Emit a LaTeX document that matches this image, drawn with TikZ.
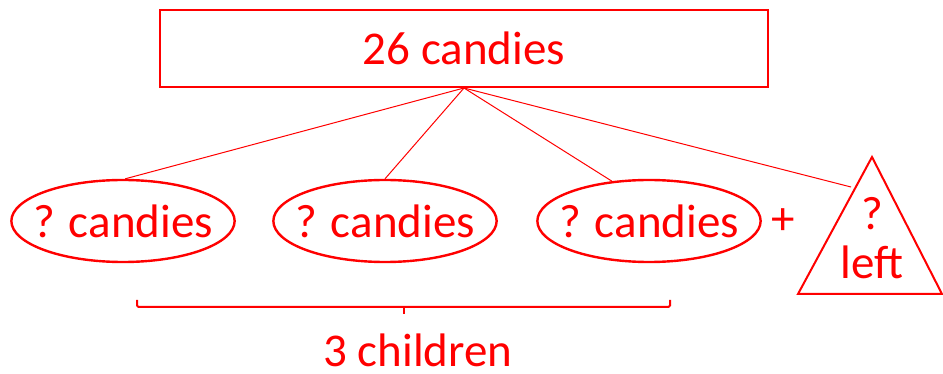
\documentclass[tikz,border=0pt]{standalone}
\usepackage{fontspec}
\setmainfont{Carlito}
\usetikzlibrary{shapes.geometric}
\definecolor{ink}{RGB}{255,0,0}
\begin{document}
\begin{tikzpicture}[x=1pt,y=-1pt,
  every node/.style={text=ink,font=\fontsize{47}{50}\selectfont},
  total/.style={draw=ink,line width=2pt,minimum width=608pt,minimum height=77pt,inner sep=0pt},
  share/.style={draw=ink,ellipse,line width=2.4pt,minimum width=223pt,minimum height=82pt,inner xsep=-11pt,inner ysep=0pt},
  link/.style={draw=ink,line width=1pt},
  thick line/.style={draw=ink,line width=2pt}]
\useasboundingbox (0,0) rectangle (943,374);

% top box
\node[total] (tot) at (464,48.5) {26 candies};

% the three shares
\node[share] (e1) at (123,221) {? candies};
\node[share] (e2) at (385,221) {? candies};
\node[share] (e3) at (649,221) {? candies};
\node (plus) at (783,222) {+};

% remainder triangle
\coordinate (apex) at (872,157);
\coordinate (bl) at (798,294);
\coordinate (br) at (942,294);
\draw[thick line,line join=miter] (apex) -- (bl) -- (br) -- cycle;
\node (q) at (872,214) {?};
\node (left) at (872,262) {left};
\coordinate (tri) at (851,187);

% connectors
\draw[link] (tot.south) -- (e1.87);
\draw[link] (tot.south) -- (e2.north);
\draw[link] (tot.south) -- (e3.133);
\draw[link] (tot.south) -- (tri);

% brace under the shares
\coordinate (bL) at (137,300);
\coordinate (bR) at (670,300);
\coordinate (bM) at (404,314);
\draw[thick line,rounded corners=1.5pt] (bL) -- (137,307) -- (670,307) -- (bR);
\draw[thick line] (404,307) -- (bM);
\node[anchor=base,text depth=0pt,inner sep=0pt] (kids) at (418,366) {3 children};
\end{tikzpicture}
\end{document}
